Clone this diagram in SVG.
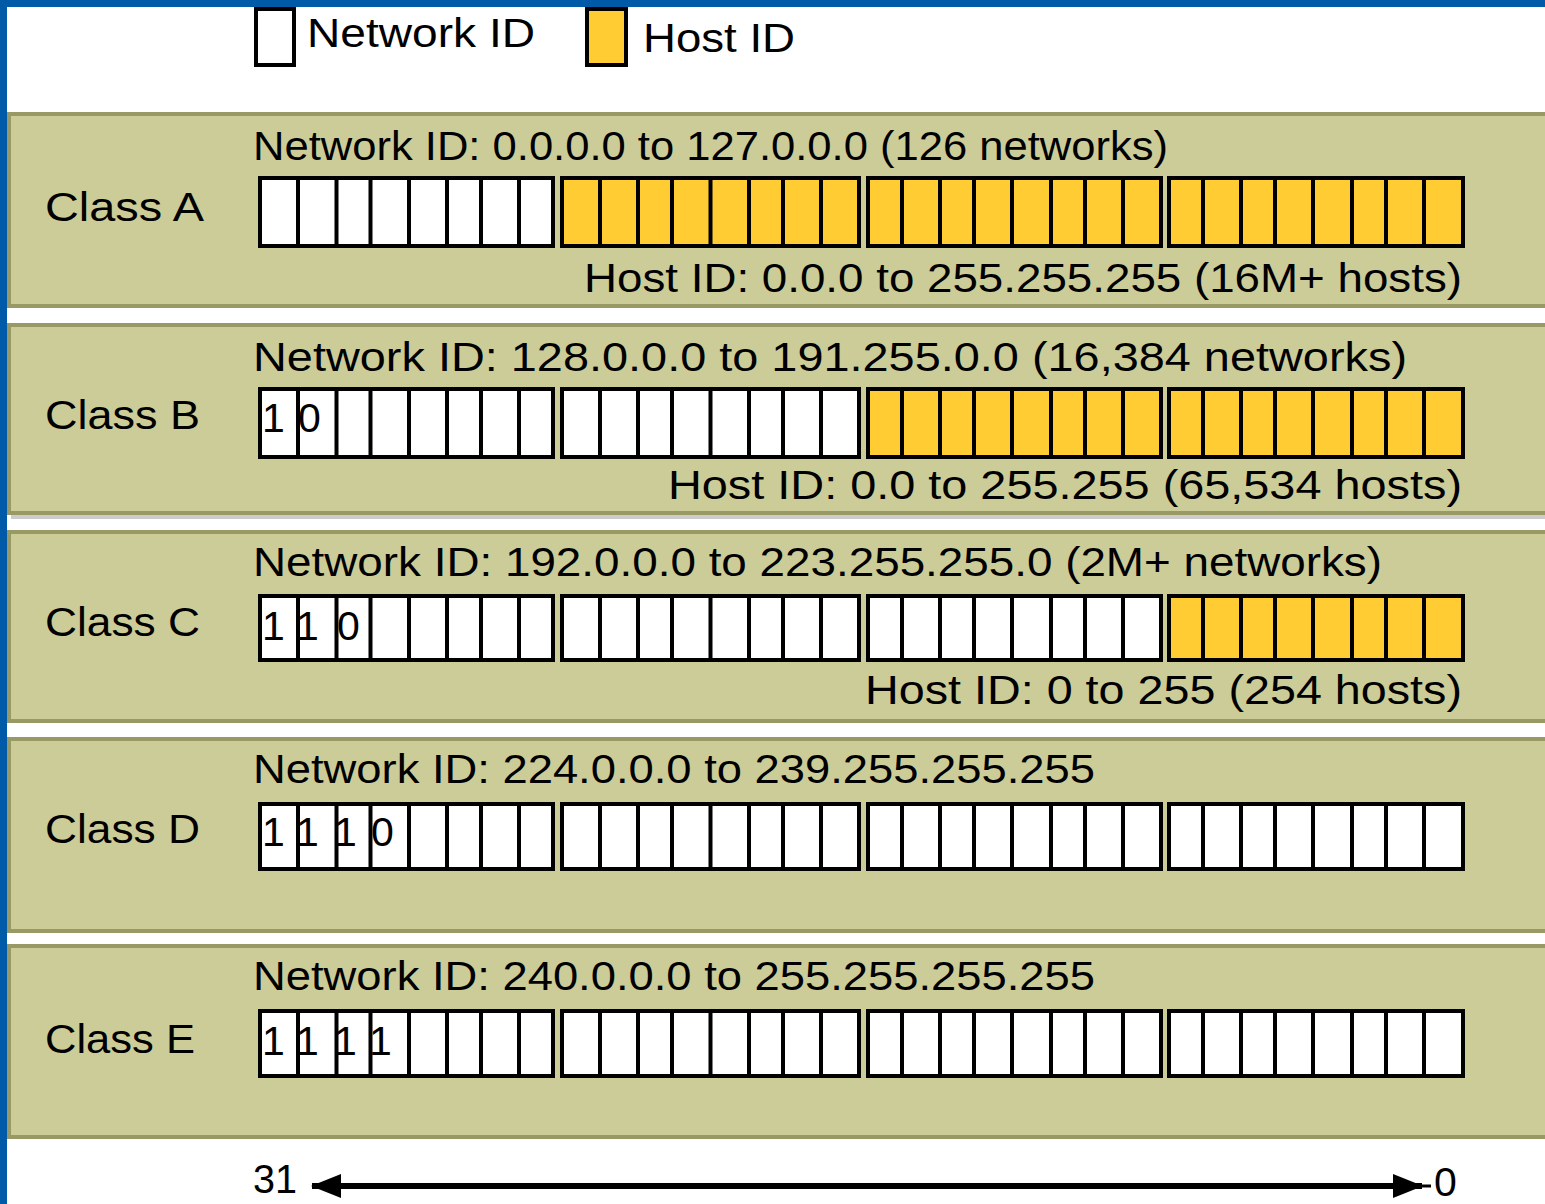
<svg xmlns="http://www.w3.org/2000/svg" width="1545" height="1204" viewBox="0 0 1545 1204">
<style>
.band{fill:#CCCC99;stroke:#999966;stroke-width:4}
.t{font-family:"Liberation Sans",Arial,sans-serif;font-size:41px;fill:#000}
.w{fill:#FFFFFF;stroke:#000;stroke-width:4}
.y{fill:#FFCC33;stroke:#000;stroke-width:4}
.dv{stroke:#000;stroke-width:4;fill:none}
</style>
<defs>
<marker id="ah" viewBox="0 0 30 24" markerWidth="30" markerHeight="24" refX="29" refY="12" orient="auto-start-reverse" markerUnits="userSpaceOnUse">
<path d="M0,0 L30,12 L0,24 z" fill="#000"/>
</marker>
</defs>
<rect x="0" y="0" width="1545" height="1204" fill="#FFFFFF"/>

<g id="legend">
<rect class="w" x="256" y="9" width="38" height="56"/>
<text class="t" x="307" y="47" textLength="228" lengthAdjust="spacingAndGlyphs">Network ID</text>
<rect class="y" x="587" y="9" width="39" height="56"/>
<text class="t" x="643" y="52" textLength="152" lengthAdjust="spacingAndGlyphs">Host ID</text>
</g>

<g id="classA">
<rect class="band" x="9" y="114" width="1560" height="192"/>
<text class="t" x="253" y="160" textLength="915" lengthAdjust="spacingAndGlyphs">Network ID: 0.0.0.0 to 127.0.0.0 (126 networks)</text>
<text class="t" x="45" y="221" textLength="159" lengthAdjust="spacingAndGlyphs">Class A</text>
<rect class="w" x="260" y="178" width="293" height="68"/>
<rect class="y" x="562" y="178" width="297" height="68"/>
<rect class="y" x="868" y="178" width="293" height="68"/>
<rect class="y" x="1169" y="178" width="294" height="68"/>
<path class="dv" d="M298,178V246M336.5,178V246M370.5,178V246M409,178V246M447,178V246M481,178V246M519,178V246M600,178V246M638,178V246M672,178V246M710.5,178V246M749,178V246M783,178V246M821,178V246M902,178V246M940,178V246M974,178V246M1012,178V246M1051,178V246M1085,178V246M1123,178V246M1203,178V246M1241,178V246M1275,178V246M1313,178V246M1352,178V246M1386,178V246M1424,178V246"/>
<text class="t" x="584" y="292" textLength="878" lengthAdjust="spacingAndGlyphs">Host ID: 0.0.0 to 255.255.255 (16M+ hosts)</text>
</g>

<g id="classB">
<rect class="band" x="9" y="325" width="1560" height="188"/>
<rect x="11" y="515" width="1534" height="4" fill="#CCCCCC"/>
<text class="t" x="253" y="371" textLength="1154" lengthAdjust="spacingAndGlyphs">Network ID: 128.0.0.0 to 191.255.0.0 (16,384 networks)</text>
<text class="t" x="45" y="429" textLength="155" lengthAdjust="spacingAndGlyphs">Class B</text>
<rect class="w" x="260" y="389" width="293" height="68"/>
<rect class="w" x="562" y="389" width="297" height="68"/>
<rect class="y" x="868" y="389" width="293" height="68"/>
<rect class="y" x="1169" y="389" width="294" height="68"/>
<path class="dv" d="M298,389V457M336.5,389V457M370.5,389V457M409,389V457M447,389V457M481,389V457M519,389V457M600,389V457M638,389V457M672,389V457M710.5,389V457M749,389V457M783,389V457M821,389V457M902,389V457M940,389V457M974,389V457M1012,389V457M1051,389V457M1085,389V457M1123,389V457M1203,389V457M1241,389V457M1275,389V457M1313,389V457M1352,389V457M1386,389V457M1424,389V457"/>
<text class="t" x="262" y="432">1</text>
<text class="t" x="298" y="432">0</text>
<text class="t" x="668" y="499" textLength="794" lengthAdjust="spacingAndGlyphs">Host ID:  0.0 to 255.255 (65,534 hosts)</text>
</g>

<g id="classC">
<rect class="band" x="9" y="532" width="1560" height="189"/>
<text class="t" x="253" y="576" textLength="1129" lengthAdjust="spacingAndGlyphs">Network ID: 192.0.0.0 to 223.255.255.0 (2M+ networks)</text>
<text class="t" x="45" y="636" textLength="155" lengthAdjust="spacingAndGlyphs">Class C</text>
<rect class="w" x="260" y="596" width="293" height="64"/>
<rect class="w" x="562" y="596" width="297" height="64"/>
<rect class="w" x="868" y="596" width="293" height="64"/>
<rect class="y" x="1169" y="596" width="294" height="64"/>
<path class="dv" d="M298,596V660M336.5,596V660M370.5,596V660M409,596V660M447,596V660M481,596V660M519,596V660M600,596V660M638,596V660M672,596V660M710.5,596V660M749,596V660M783,596V660M821,596V660M902,596V660M940,596V660M974,596V660M1012,596V660M1051,596V660M1085,596V660M1123,596V660M1203,596V660M1241,596V660M1275,596V660M1313,596V660M1352,596V660M1386,596V660M1424,596V660"/>
<text class="t" x="262" y="640">1</text>
<text class="t" x="296" y="640">1</text>
<text class="t" x="337" y="640">0</text>
<text class="t" x="865" y="704" textLength="597" lengthAdjust="spacingAndGlyphs">Host ID: 0 to 255 (254 hosts)</text>
</g>

<g id="classD">
<rect class="band" x="9" y="739" width="1560" height="192"/>
<text class="t" x="253" y="783" textLength="842" lengthAdjust="spacingAndGlyphs">Network ID: 224.0.0.0 to 239.255.255.255</text>
<text class="t" x="45" y="843" textLength="155" lengthAdjust="spacingAndGlyphs">Class D</text>
<rect class="w" x="260" y="804" width="293" height="65"/>
<rect class="w" x="562" y="804" width="297" height="65"/>
<rect class="w" x="868" y="804" width="293" height="65"/>
<rect class="w" x="1169" y="804" width="294" height="65"/>
<path class="dv" d="M298,804V869M336.5,804V869M370.5,804V869M409,804V869M447,804V869M481,804V869M519,804V869M600,804V869M638,804V869M672,804V869M710.5,804V869M749,804V869M783,804V869M821,804V869M902,804V869M940,804V869M974,804V869M1012,804V869M1051,804V869M1085,804V869M1123,804V869M1203,804V869M1241,804V869M1275,804V869M1313,804V869M1352,804V869M1386,804V869M1424,804V869"/>
<text class="t" x="262" y="846">1</text>
<text class="t" x="296" y="846">1</text>
<text class="t" x="334" y="846">1</text>
<text class="t" x="371" y="846">0</text>
</g>

<g id="classE">
<rect class="band" x="9" y="946" width="1560" height="191"/>
<text class="t" x="253" y="990" textLength="842" lengthAdjust="spacingAndGlyphs">Network ID: 240.0.0.0 to 255.255.255.255</text>
<text class="t" x="45" y="1053" textLength="150" lengthAdjust="spacingAndGlyphs">Class E</text>
<rect class="w" x="260" y="1011" width="293" height="65"/>
<rect class="w" x="562" y="1011" width="297" height="65"/>
<rect class="w" x="868" y="1011" width="293" height="65"/>
<rect class="w" x="1169" y="1011" width="294" height="65"/>
<path class="dv" d="M298,1011V1076M336.5,1011V1076M370.5,1011V1076M409,1011V1076M447,1011V1076M481,1011V1076M519,1011V1076M600,1011V1076M638,1011V1076M672,1011V1076M710.5,1011V1076M749,1011V1076M783,1011V1076M821,1011V1076M902,1011V1076M940,1011V1076M974,1011V1076M1012,1011V1076M1051,1011V1076M1085,1011V1076M1123,1011V1076M1203,1011V1076M1241,1011V1076M1275,1011V1076M1313,1011V1076M1352,1011V1076M1386,1011V1076M1424,1011V1076"/>
<text class="t" x="262" y="1055">1</text>
<text class="t" x="296" y="1055">1</text>
<text class="t" x="334" y="1055">1</text>
<text class="t" x="369" y="1055">1</text>
</g>

<g id="scale">
<text class="t" x="253" y="1193" textLength="44" lengthAdjust="spacingAndGlyphs">31</text>
<text class="t" x="1434" y="1196">0</text>
</g>

<g id="connectors">
<line x1="312" y1="1186" x2="1422" y2="1186" stroke="#000" stroke-width="6" marker-start="url(#ah)" marker-end="url(#ah)"/>
<line x1="1420" y1="1186" x2="1431" y2="1186" stroke="#000" stroke-width="3"/>
</g>

<rect x="0" y="0" width="1545" height="7" fill="#005AA8"/>
<rect x="0" y="0" width="7" height="1204" fill="#005AA8"/>
</svg>
